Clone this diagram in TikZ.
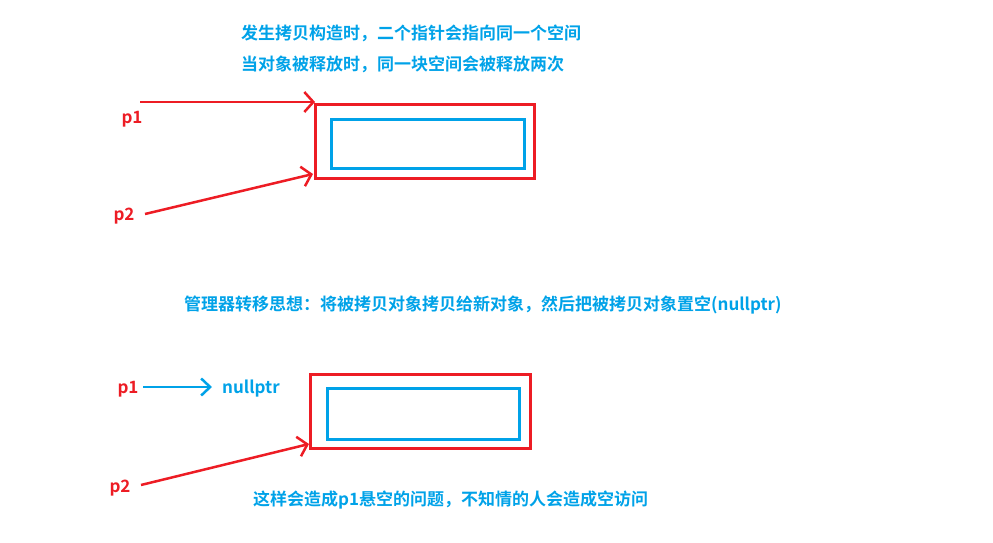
\documentclass[tikz,border=0pt]{standalone}
\usepackage{fontspec}
\setmainfont{Noto Sans CJK SC}[BoldFont=Noto Sans CJK SC Bold]
\usepackage{tikz}
\usetikzlibrary{arrows.meta}
\definecolor{paintred}{HTML}{ED1C24}
\definecolor{paintblue}{HTML}{00A2E8}

\begin{document}
\begin{tikzpicture}[x=1pt, y=-1pt, every node/.style = {font=\fontsize{17}{19}\selectfont\bfseries, inner sep=0pt}, note/.style = {text=paintblue, anchor=west}, ptr/.style = {text=paintred}, outer/.style = {draw=paintred, line width=3pt}, inner/.style = {draw=paintblue, line width=3pt}, link/.style = {line width=2.5pt, -{Straight Barb[length=9pt, width=20pt, line width=2.5pt]}}]
\useasboundingbox (0,0) rectangle (993,543);
% top: copy constructor
\node[note] (t1) at (241,33) {发生拷贝构造时，二个指针会指向同一个空间};
\node[note] (t2) at (241,64) {当对象被释放时，同一块空间会被释放两次};
\draw[outer] (315,104) rectangle (534,178);
\draw[inner] (331,119) rectangle (524,168);
\coordinate (a1) at (315,102);
\coordinate (a2) at (313,174);
\coordinate (s1) at (140,102);
\coordinate (s2) at (145,214);
\node[ptr] (p1) at (132,119) {p1};
\node[ptr] (p2) at (124,216) {p2};
\draw[link, paintred] (s1) -- (a1);
\draw[link, paintred] (s2) -- (a2);
% middle
\node[note] (t3) at (184,305) {管理器转移思想：将被拷贝对象拷贝给新对象，然后把被拷贝对象置空(nullptr)};
% bottom: after transfer
\node[ptr] (q1) at (128,389) {p1};
\node[note] (np) at (222,389) {nullptr};
\coordinate (u1) at (143,387);
\coordinate (v1) at (212,387);
\draw[link, paintblue, -{Straight Barb[length=9pt, width=17pt, line width=2.5pt]}] (u1) -- (v1);
\draw[outer] (310,374) rectangle (530,448);
\draw[inner] (327,388) rectangle (519,439);
\coordinate (u2) at (141,485);
\coordinate (v2) at (309,444);
\node[ptr] (q2) at (120,488) {p2};
\draw[link, paintred] (u2) -- (v2);
\node[note] (t4) at (253,500) {这样会造成p1悬空的问题，不知情的人会造成空访问};
\end{tikzpicture}
\end{document}
